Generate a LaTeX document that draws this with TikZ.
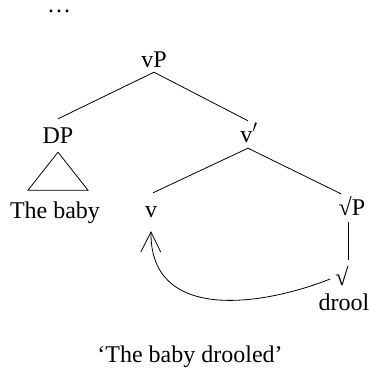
\documentclass[tikz,border=0pt]{standalone}
\usepackage{fontspec}
\setmainfont{Liberation Serif}
\usetikzlibrary{arrows.meta}
\begin{document}
\begin{tikzpicture}[x=1pt,y=-1pt,
  lbl/.style={anchor=base,inner sep=6pt,text height=15pt,text depth=0pt,font=\fontsize{24}{28}\selectfont},
  edge/.style={line width=0.8pt},
  mv/.style={line width=0.8pt,-{Straight Barb[length=20pt,width=20pt,line width=0.8pt]}}]
\useasboundingbox (0,0) rectangle (368,370);
\node[lbl,inner sep=1pt,text height=4pt] (dots) at (59,12) {…};
\node[lbl] (vP) at (154,67) {vP};
\node[lbl] (DP) at (58,143) {DP};
\node[lbl] (vbar) at (249,142) {v$'$};
\node[lbl] (baby) at (55,218) {The baby};
\node[lbl] (v) at (151,217) {v};
\node[lbl] (rootP) at (352,215) {√P};
\node[lbl,text height=12pt] (root) at (342,285) {√};
\node[lbl] (drool) at (344,310) {drool};
\node[lbl] (cap) at (190,362) {‘The baby drooled’};
\draw[edge] ([yshift=1pt]vP.south) -- ([yshift=3pt]DP.north);
\draw[edge] ([yshift=1pt]vP.south) -- ([xshift=-1pt]vbar.north);
\draw[edge] ([xshift=-1pt]vbar.south) -- ([xshift=2pt,yshift=3pt]v.north);
\draw[edge] ([xshift=-1pt]vbar.south) -- ([xshift=-11pt]rootP.north);
\draw[edge] ([xshift=-4pt,yshift=-1pt]rootP.south) -- ([xshift=6pt,yshift=7pt]root.north);
\draw[edge] ([yshift=-3pt]DP.south) -- ++(-30,38) -- ++(60,0) -- cycle;
\draw[mv] ([xshift=1pt]root.west) .. controls +(-71,28) and +(-1,90) .. ([yshift=-8pt]v.south);
\end{tikzpicture}
\end{document}
